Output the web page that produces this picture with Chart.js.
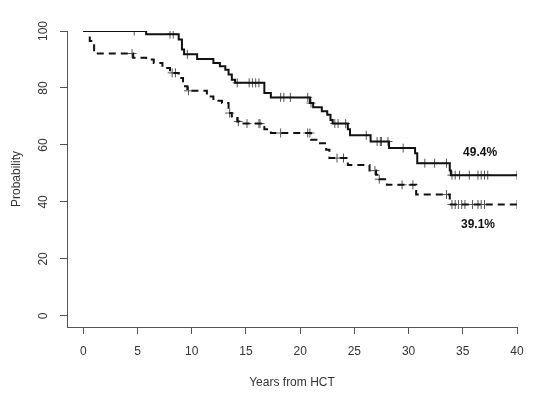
<!DOCTYPE html>
<html>
<head>
<meta charset="utf-8">
<script src="https://cdn.jsdelivr.net/npm/chart.js@4.4.0/dist/chart.umd.min.js"></script>
<style>
html, body { margin: 0; padding: 0; background: #fff; }
</style>
</head>
<body>
<canvas id="kmChart" width="549" height="393"></canvas>
<script>
// tick labels
const xTicks = [0, 5, 10, 15, 20, 25, 30, 35, 40];
const yTicks = [0, 20, 40, 60, 80, 100];

// solid curve: event times (years) and survival (%) after each drop
const solidTimes = [0, 5.8, 8.8, 9.1, 9.3, 10.5, 12.0, 12.6, 13.1, 13.4, 13.7, 14.0, 16.7, 17.3, 20.9, 21.2, 22.0, 22.5, 22.8, 23.0, 24.4, 24.6, 26.5, 28.2, 30.6, 30.8, 33.8, 33.9, 40];
const solidSurv  = [100, 98.9, 97.0, 93.5, 91.8, 90.2, 88.8, 87.6, 86.4, 84.7, 82.9, 81.8, 78.2, 76.7, 74.7, 73.2, 71.8, 70.6, 68.8, 67.5, 65.5, 63.4, 61.2, 58.9, 57.1, 53.6, 51.0, 49.4, 49.4];
const solidCensor = [4.7, 8.0, 8.3, 9.6, 14.2, 15.3, 15.6, 15.9, 16.2, 18.2, 18.5, 19.1, 20.7, 21.0, 23.2, 23.5, 24.2, 26.1, 27.1, 27.4, 27.5, 28.1, 29.5, 31.5, 32.4, 33.5, 34.0, 34.3, 34.7, 35.6, 36.4, 36.7, 37.0, 37.3, 40];

// dashed curve
const dashTimes = [0, 0.6, 1.0, 4.6, 5.8, 6.5, 7.3, 8.0, 8.8, 9.2, 9.6, 11.4, 12.0, 12.8, 13.4, 13.7, 14.2, 14.4, 16.7, 17.3, 21.0, 21.6, 22.4, 22.7, 24.4, 26.4, 27.0, 27.3, 28.0, 30.7, 33.8, 33.9, 40];
const dashSurv  = [100, 96.5, 92.1, 90.6, 90.0, 88.8, 87.0, 85.3, 83.5, 80.6, 79.0, 77.0, 75.5, 74.7, 71.2, 70.0, 68.2, 67.5, 65.5, 64.2, 61.8, 60.6, 58.3, 55.4, 53.0, 51.0, 49.5, 48.0, 46.0, 42.6, 40.5, 39.1, 39.1];
const dashCensor = [4.5, 8.2, 8.5, 9.7, 13.5, 14.3, 15.1, 16.2, 16.3, 18.2, 20.7, 20.9, 23.4, 24.0, 26.9, 27.3, 29.4, 30.4, 33.5, 34.0, 34.3, 34.6, 34.9, 35.2, 35.9, 36.4, 36.7, 37.0, 40];

const endLabels = ['49.4%', '39.1%'];

function curvePoints(times, surv) {
    return times.map((t, i) => ({ x: t, y: surv[i] }));
}

// censor marks sit on the curve level at their time
function censorPoints(censor, times, surv) {
    return censor.map(t => {
        let v = surv[0];
        for (let i = 0; i < times.length; i++) {
            if (times[i] <= t) v = surv[i];
        }
        return { x: t, y: v };
    });
}

const textPlugin = {
    id: 'textPlugin',
    afterDraw(chart) {
        const ctx = chart.ctx;
        const xs = chart.scales.x;
        const ys = chart.scales.y;
        ctx.save();
        // y tick labels, rotated like R's default
        ctx.fillStyle = '#333';
        ctx.font = '12px "Liberation Sans", Arial, sans-serif';
        ctx.textAlign = 'center';
        ctx.textBaseline = 'middle';
        yTicks.forEach(v => {
            ctx.save();
            ctx.translate(44, ys.getPixelForValue(v));
            ctx.rotate(-Math.PI / 2);
            ctx.fillText(String(v), 0, 0);
            ctx.restore();
        });
        // end percentages
        ctx.fillStyle = '#111';
        ctx.font = 'bold 12px "Liberation Sans", Arial, sans-serif';
        ctx.fillText(endLabels[0], xs.getPixelForValue(36.6), ys.getPixelForValue(57.4));
        ctx.fillText(endLabels[1], xs.getPixelForValue(36.4), ys.getPixelForValue(31.9));
        ctx.restore();
    }
};

const ctx = document.getElementById('kmChart').getContext('2d');
const chart = new Chart(ctx, {
    type: 'line',
    data: {
        datasets: [{
            data: curvePoints(solidTimes, solidSurv),
            borderColor: '#111',
            borderWidth: 2,
            stepped: 'before',
            pointRadius: 0,
            fill: false
        }, {
            data: curvePoints(dashTimes, dashSurv),
            borderColor: '#111',
            borderWidth: 2,
            borderDash: [7, 5],
            stepped: 'before',
            pointRadius: 0,
            fill: false
        }, {
            data: censorPoints(solidCensor, solidTimes, solidSurv),
            showLine: false,
            pointStyle: 'cross',
            pointRadius: 4.5,
            borderWidth: 1,
            borderColor: '#555'
        }, {
            data: censorPoints(dashCensor, dashTimes, dashSurv),
            showLine: false,
            pointStyle: 'cross',
            pointRadius: 4.5,
            borderWidth: 1,
            borderColor: '#555'
        }]
    },
    options: {
        responsive: false,
        animation: false,
        layout: {
            padding: { left: 0, right: 32, top: 31, bottom: 0 }
        },
        plugins: {
            legend: { display: false },
            tooltip: { enabled: false }
        },
        scales: {
            x: {
                type: 'linear',
                min: -1.5,
                max: 40,
                afterBuildTicks: s => { s.ticks = xTicks.map(v => ({ value: v })); },
                afterFit: s => { s.height = 66; },
                grid: {
                    drawOnChartArea: false,
                    drawTicks: true,
                    tickLength: 7,
                    color: '#555'
                },
                border: { display: true, color: '#555', width: 1 },
                ticks: {
                    color: '#333',
                    padding: 10,
                    maxRotation: 0,
                    font: { family: '"Liberation Sans", Arial, sans-serif', size: 12 }
                },
                title: {
                    display: true,
                    text: 'Years from HCT',
                    color: '#333',
                    padding: { top: 0, bottom: 3 },
                    font: { family: '"Liberation Sans", Arial, sans-serif', size: 12 }
                }
            },
            y: {
                min: -3.9,
                max: 100,
                afterBuildTicks: s => { s.ticks = yTicks.map(v => ({ value: v })); },
                afterFit: s => { s.width = 67; },
                grid: {
                    drawOnChartArea: false,
                    drawTicks: true,
                    tickLength: 7,
                    color: '#555'
                },
                border: { display: true, color: '#555', width: 1 },
                ticks: { display: false },
                title: {
                    display: true,
                    text: 'Probability',
                    color: '#333',
                    padding: { top: 9, bottom: 0 },
                    font: { family: '"Liberation Sans", Arial, sans-serif', size: 12 }
                }
            }
        }
    },
    plugins: [textPlugin]
});
</script>
</body>
</html>
